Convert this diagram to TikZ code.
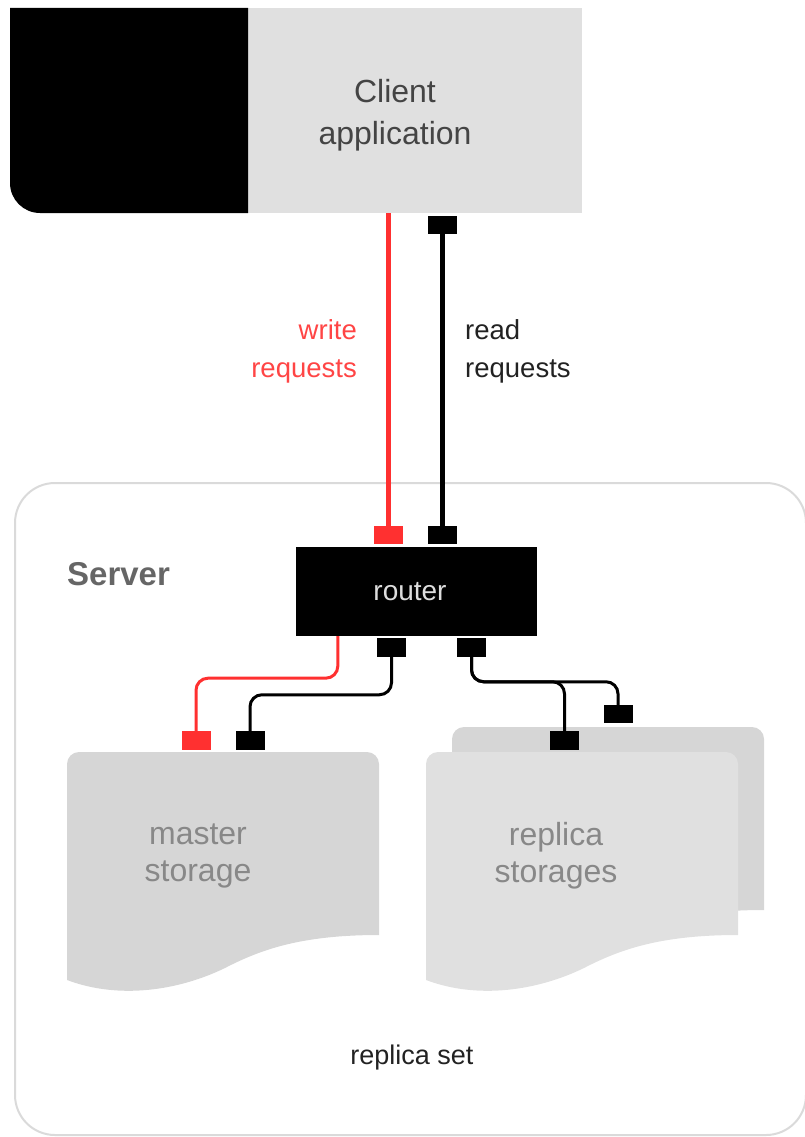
\documentclass[tikz,border=0pt]{standalone}
\usepackage{fontspec}
\setmainfont{Liberation Sans}
\definecolor{cgrey}{HTML}{E0E0E0}
\definecolor{sgrey}{HTML}{D6D6D6}
\definecolor{frame}{HTML}{DADADA}
\definecolor{wred}{HTML}{FF3030}
\definecolor{tred}{HTML}{FF4545}
\definecolor{tdark}{HTML}{444444}
\definecolor{tstore}{HTML}{888888}
\definecolor{tserver}{HTML}{666666}
\definecolor{trouter}{HTML}{DDDDDD}
\definecolor{tblack}{HTML}{222222}
\newcommand\mydocshape[3]{%
  \begin{scope}[shift={(#2,#3)}]
    \fill[#1] (0,-228) -- (0,-12) arc[start angle=180,end angle=90,radius=12]
      -- (300,0) arc[start angle=90,end angle=0,radius=12] -- (312,-183)
      .. controls (233,-183) and (193,-198) .. (158,-216)
      .. controls (113,-238) and (53,-248) .. (0,-228) -- cycle;
  \end{scope}}
\tikzset{
  port/.style={minimum width=29pt, minimum height=18.5pt, inner sep=0pt, outer sep=0pt, fill=black},
  redport/.style={port, fill=wred},
  bigtext/.style={font=\fontsize{32}{42}\selectfont, align=center, inner sep=0pt},
  storetext/.style={font=\fontsize{32}{37}\selectfont, align=center, inner sep=0pt, text=tstore},
  reqtext/.style={font=\fontsize{27.5}{38}\selectfont, inner sep=0pt},
  conn/.style={line width=3pt, rounded corners=12pt},
}
\begin{document}
\begin{tikzpicture}[x=1pt,y=1pt]
\useasboundingbox (0,0) rectangle (804,-1137);
% server frame
\node[draw=frame, line width=2pt, rounded corners=40pt, minimum width=791pt, minimum height=652pt, inner sep=0pt] (server) at (410.5,-809) {};
% client
\node[fill=cgrey, minimum width=334pt, minimum height=205pt, inner sep=0pt] (client) at (415,-110.5) {};
\fill[black] (10,-8) -- (248,-8) -- (248,-213) -- (40,-213) arc[start angle=270,end angle=180,radius=30] -- cycle;
\node[bigtext, text=tdark] (clienttext) at (395,-115) {Client\\application};
% storages
\mydocshape{sgrey}{452}{-727}
\mydocshape{cgrey}{426}{-752}
\mydocshape{sgrey}{67}{-752}
\node[storetext] (master) at (198,-856) {master\\storage};
\node[storetext] (replica) at (556,-856) {replica\\storages};
% router
\node[fill=black, minimum width=241pt, minimum height=89pt, inner sep=0pt] (router) at (416.5,-591.5) {};
\node[font=\fontsize{28}{30}\selectfont, text=trouter, inner sep=0pt] (routertext) at (410,-592) {router};
% ports
\node[port] (ctop) at (442,-225) {};
\node[redport] (wport) at (388.5,-535) {};
\node[port] (rport) at (442,-535) {};
\node[port] (b1) at (391.5,-647.5) {};
\node[port] (b2) at (471.5,-647.5) {};
\node[redport] (mw) at (196,-740.5) {};
\node[port] (mr) at (250,-740.5) {};
\node[port] (r1) at (564.5,-740.5) {};
\node[port] (r2) at (618,-714) {};
% top connectors
\draw[wred, line width=5.5pt] (wport.north |- client.south) -- (wport.north);
\draw[black, line width=5pt] (ctop.south) -- (rport.north);
% lower connectors
\draw[wred, conn] ([xshift=42pt]router.south west) -- ++(0,-42) -| (mw.north);
\draw[black, conn] (b1.south) -- ++(0,-38) -| (mr.north);
\draw[black, conn] (b2.south) -- ++(0,-25) -| (r1.north);
\draw[black, conn] (b2.south) -- ++(0,-25) -| (r2.north);
% labels
\node[reqtext, text=tred, anchor=east, align=right] (wlabel) at (357,-351) {write\\requests};
\node[reqtext, text=tblack, anchor=west, align=left] (rlabel) at (465,-351) {read\\requests};
\node[font=\fontsize{33}{36}\selectfont\bfseries, text=tserver, anchor=west, inner sep=0pt] (servertext) at (67,-574) {Server};
\node[font=\fontsize{27}{30}\selectfont, text=tblack, inner sep=0pt] (rset) at (412,-1058) {replica set};
\end{tikzpicture}
\end{document}
